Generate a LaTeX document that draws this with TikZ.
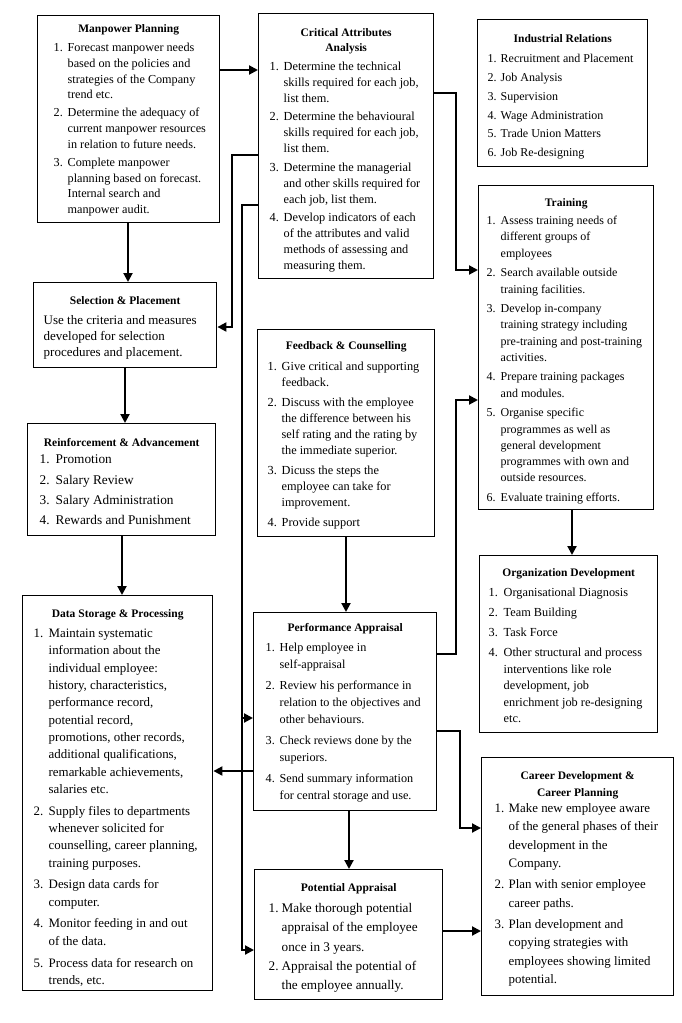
\documentclass[tikz,border=0pt]{standalone}
\usepackage{fontspec}
\setmainfont{Liberation Serif}
\usetikzlibrary{arrows.meta}
\tikzset{
  bx/.style={draw, line width=1.4pt, inner sep=0pt, anchor=north west},
  arr/.style={line width=2pt, -{Triangle[length=9pt,width=9pt]}},
}
\newlength\numx \newlength\numw \newlength\igap
\newcommand{\setb}[5]{\fontsize{#1}{#2}\selectfont\setlength\igap{#3pt}\setlength\numx{#4pt}\setlength\numw{#5pt}\lineskip=0pt\lineskiplimit=0pt}
\newcommand{\ttl}[4][15]{\vspace*{#2pt}{\centering\bfseries\fontsize{11.5}{#1}\selectfont #3\par}\vspace{#4pt}}
\newcommand{\itm}[2]{\par\vspace{\igap}\noindent\hspace*{\numx}\makebox[\numw][l]{#1}\begin{tabular}[t]{@{}l@{}}#2\end{tabular}\par}
\newcommand{\mkbox}[7]{\node[bx] (#1) at (#2,#3) {\begin{minipage}[t][#5pt][t]{#4pt}#6#7\end{minipage}};}

\begin{document}
\begin{tikzpicture}[x=1pt,y=-1pt]
\useasboundingbox (0,0) rectangle (682,1023);

\mkbox{mp}{37}{15}{182}{207}{\setb{12.2}{15.7}{2.5}{16}{14}}{\ttl{9}{Manpower Planning}{0.8}%
\itm{1.}{Forecast manpower needs\\based on the policies and\\strategies of the Company\\trend etc.}%
\itm{2.}{Determine the adequacy of\\current manpower resources\\in relation to future needs.}%
\itm{3.}{Complete manpower\\planning based on forecast.\\Internal search and\\manpower audit.}}

\mkbox{ca}{258}{13}{175}{265}{\setb{12.3}{16}{2.5}{11}{14}}{\ttl{15}{Critical Attributes\\Analysis}{0}%
\itm{1.}{Determine the technical\\skills required for each job,\\list them.}%
\itm{2.}{Determine the behavioural\\skills required for each job,\\list them.}%
\itm{3.}{Determine the managerial\\and other skills required for\\each job, list them.}%
\itm{4.}{Develop indicators of each\\of the attributes and valid\\methods of assessing and\\measuring them.}}

\mkbox{ir}{477}{19}{170}{147}{\setb{12}{16}{2.8}{10}{13}}{\ttl{15}{Industrial Relations}{1.2}%
\itm{1.}{Recruitment and Placement}%
\itm{2.}{Job Analysis}%
\itm{3.}{Supervision}%
\itm{4.}{Wage Administration}%
\itm{5.}{Trade Union Matters}%
\itm{6.}{Job Re-designing}}

\mkbox{tr}{478}{185}{175}{324}{\setb{12}{16.3}{3.2}{8}{14}}{\ttl{13}{Training}{-1.5}%
\itm{1.}{Assess training needs of\\different groups of\\employees}%
\itm{2.}{Search available outside\\training facilities.}%
\itm{3.}{Develop in-company\\training strategy including\\pre-training and post-training\\activities.}%
\itm{4.}{Prepare training packages\\and modules.}%
\itm{5.}{Organise specific\\programmes as well as\\general development\\programmes with own and\\outside resources.}%
\itm{6.}{Evaluate training efforts.}}

\mkbox{sp}{33}{282}{183}{85}{\setb{13}{16}{0}{10}{0}}{\ttl{14}{Selection \& Placement}{4}%
\itm{}{Use the criteria and measures\\developed for selection\\procedures and placement.}}

\mkbox{ra}{27}{423}{188}{112}{\setb{13.3}{16}{4.3}{12}{16}}{\ttl{15}{Reinforcement \& Advancement}{-3.3}%
\itm{1.}{Promotion}%
\itm{2.}{Salary Review}%
\itm{3.}{Salary Administration}%
\itm{4.}{Rewards and Punishment}}

\mkbox{fc}{257}{329}{177}{207}{\setb{12.3}{16}{4}{10}{14}}{\ttl{12}{Feedback \& Counselling}{1}%
\itm{1.}{Give critical and supporting\\feedback.}%
\itm{2.}{Discuss with the employee\\the difference between his\\self rating and the rating by\\the immediate superior.}%
\itm{3.}{Dicuss the steps the\\employee can take for\\improvement.}%
\itm{4.}{Provide support}}

\mkbox{od}{479}{555}{178}{177}{\setb{12.3}{16.5}{3.5}{9}{15}}{\ttl{13}{Organization Development}{0}%
\itm{1.}{Organisational Diagnosis}%
\itm{2.}{Team Building}%
\itm{3.}{Task Force}%
\itm{4.}{Other structural and process\\interventions like role\\development, job\\enrichment job re-designing\\etc.}}

\mkbox{ds}{22}{595}{190}{395}{\setb{12.9}{17.3}{4.5}{11}{15}}{\ttl{14}{Data Storage \& Processing}{-1.8}%
\itm{1.}{Maintain systematic\\information about the\\individual employee:\\history, characteristics,\\performance record,\\potential record,\\promotions, other records,\\additional qualifications,\\remarkable achievements,\\salaries etc.}%
\itm{2.}{Supply files to departments\\whenever solicited for\\counselling, career planning,\\training purposes.}%
\itm{3.}{Design data cards for\\computer.}%
\itm{4.}{Monitor feeding in and out\\of the data.}%
\itm{5.}{Process data for research on\\trends, etc.}}

\mkbox{pa}{253}{612}{183}{198}{\setb{12.2}{17}{4}{12}{14}}{\ttl{11}{Performance Appraisal}{-1}%
\itm{1.}{Help employee in\\self-appraisal}%
\itm{2.}{Review his performance in\\relation to the objectives and\\other behaviours.}%
\itm{3.}{Check reviews done by the\\superiors.}%
\itm{4.}{Send summary information\\for central storage and use.}}

\mkbox{pt}{254}{869}{188}{130}{\setb{13.2}{19.3}{0}{14}{13}}{\ttl{14}{Potential Appraisal}{1.7}%
\itm{1.}{Make thorough potential\\appraisal of the employee\\once in 3 years.}%
\itm{2.}{Appraisal the potential of\\the employee annually.}}

\mkbox{cd}{481}{757}{192}{238}{\setb{12.9}{18.3}{3}{13}{14}}{\ttl[17]{14}{Career Development \&\\Career Planning}{-5.3}%
\itm{1.}{Make new employee aware\\of the general phases of their\\development in the\\Company.}%
\itm{2.}{Plan with senior employee\\career paths.}%
\itm{3.}{Plan development and\\copying strategies with\\employees showing limited\\potential.}}

% connectors
\draw[arr] (mp.east |- 0,70) -- (ca.west |- 0,70);
\draw[arr] (mp.south -| 128,0) -- (sp.north -| 128,0);
\draw[arr] (ca.west |- 0,155) -| (232,327) -- (sp.east |- 0,327);
\draw[arr] (ca.west |- 0,205) -| (242,950) -- (pt.west |- 0,950);
\draw[arr] (242,718) -- (pa.west |- 0,718);
\draw[arr] (pa.west |- 0,771) -- (ds.east |- 0,771);
\draw[arr] (sp.south -| 125,0) -- (ra.north -| 125,0);
\draw[arr] (ra.south -| 122,0) -- (ds.north -| 122,0);
\draw[arr] (fc.south -| 346,0) -- (pa.north -| 346,0);
\draw[arr] (pa.south -| 349,0) -- (pt.north -| 349,0);
\draw[arr] (ca.east |- 0,93) -| (456,270) -- (tr.west |- 0,270);
\draw[arr] (pa.east |- 0,654) -| (456,400) -- (tr.west |- 0,400);
\draw[arr] (pa.east |- 0,731) -| (460,828) -- (cd.west |- 0,828);
\draw[arr] (pt.east |- 0,931) -- (cd.west |- 0,931);
\draw[arr] (tr.south -| 572,0) -- (od.north -| 572,0);
\end{tikzpicture}
\end{document}
